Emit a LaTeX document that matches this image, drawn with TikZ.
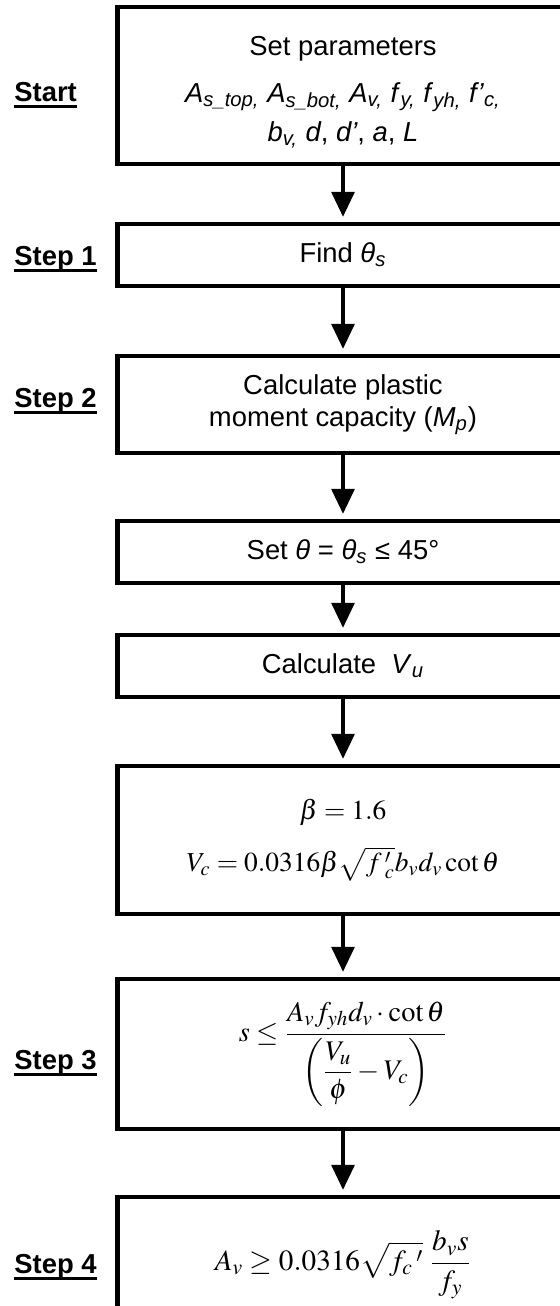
\documentclass[tikz,border=0pt]{standalone}
\usepackage{mathptmx}
\usepackage[no-math]{fontspec}
\setmainfont{Liberation Sans}
\usetikzlibrary{arrows.meta}
\newcommand\stepul[1]{\setbox0\hbox{#1}\rlap{\rule[-3.2pt]{\wd0}{1.3pt}}\box0}
\newcommand\iv[2]{\textit{#1}\textsubscript{\textit{#2}}}
\begin{document}
\begin{tikzpicture}[x=0.5pt,y=-0.5pt,
  box/.style={draw,line width=2.2pt,minimum width=225.5pt,inner sep=0pt,align=center,font=\fontsize{13.7}{16}\selectfont},
  flow/.style={line width=1.6pt,-{Triangle[width=11.5pt,length=12.5pt]},shorten >=2.5pt},
  steplbl/.style={anchor=west,inner sep=0pt,font=\fontsize{13.7}{16}\selectfont\bfseries}]
\useasboundingbox (0,0) rectangle (560,1306);
\clip (0,0) rectangle (560,1306);
\node[box,minimum height=78.5pt] (b1) at (343,85.5) {\rule{0pt}{16pt}Set parameters\\[7.5pt]
  \iv{A}{s\_top,} \iv{A}{s\_bot,} \iv{A}{v,} \iv{f}{y,} \iv{f}{yh,} \iv{f’}{c,}\\[3.5pt]
  \iv{b}{v,} \textit{d}, \textit{d’}, \textit{a}, \textit{L}};
\node[box,minimum height=31pt] (b2) at (343,255) {Find \iv{θ}{s}};
\node[box,minimum height=48.5pt] (b3) at (343,404.5) {Calculate plastic\\moment capacity (\iv{M}{p})};
\node[box,minimum height=31pt] (b4) at (343,552) {Set \textit{θ} = \iv{θ}{s} ≤ 45°};
\node[box,minimum height=31pt] (b5) at (343,666) {Calculate \ \iv{V}{u}};
\node[box,minimum height=74pt] (b6) at (343,840) {$\beta=1.6$\\[10pt]
  $V_c=0.0316\beta\sqrt{f\,'_c}b_v d_v \cot\theta$};
\node[box,minimum height=75pt,font=\fontsize{14.2}{17}\selectfont] (b7) at (343,1054) {$\displaystyle s\le\frac{A_v f_{yh} d_v\cdot\cot\theta}{\left(\displaystyle\frac{V_u}{\phi}-V_c\right)}$};
\node[box,minimum height=68pt,font=\fontsize{14.6}{17}\selectfont] (b8) at (343,1265) {$\displaystyle A_v\ge 0.0316\sqrt{f_c\,'}\;\frac{b_v s}{f_y}$};
\node[steplbl] (s0) at (14,95) {\stepul{Start}};
\node[steplbl] (s1) at (14,259) {\stepul{Step 1}};
\node[steplbl] (s2) at (14,401) {\stepul{Step 2}};
\node[steplbl] (s3) at (14,1063) {\stepul{Step 3}};
\node[steplbl] (s4) at (14,1267) {\stepul{Step 4}};
\draw[flow] (b1) -- (b2);
\draw[flow] (b2) -- (b3);
\draw[flow] (b3) -- (b4);
\draw[flow] (b4) -- (b5);
\draw[flow] (b5) -- (b6);
\draw[flow] (b6) -- (b7);
\draw[flow] (b7) -- (b8);
\end{tikzpicture}
\end{document}
